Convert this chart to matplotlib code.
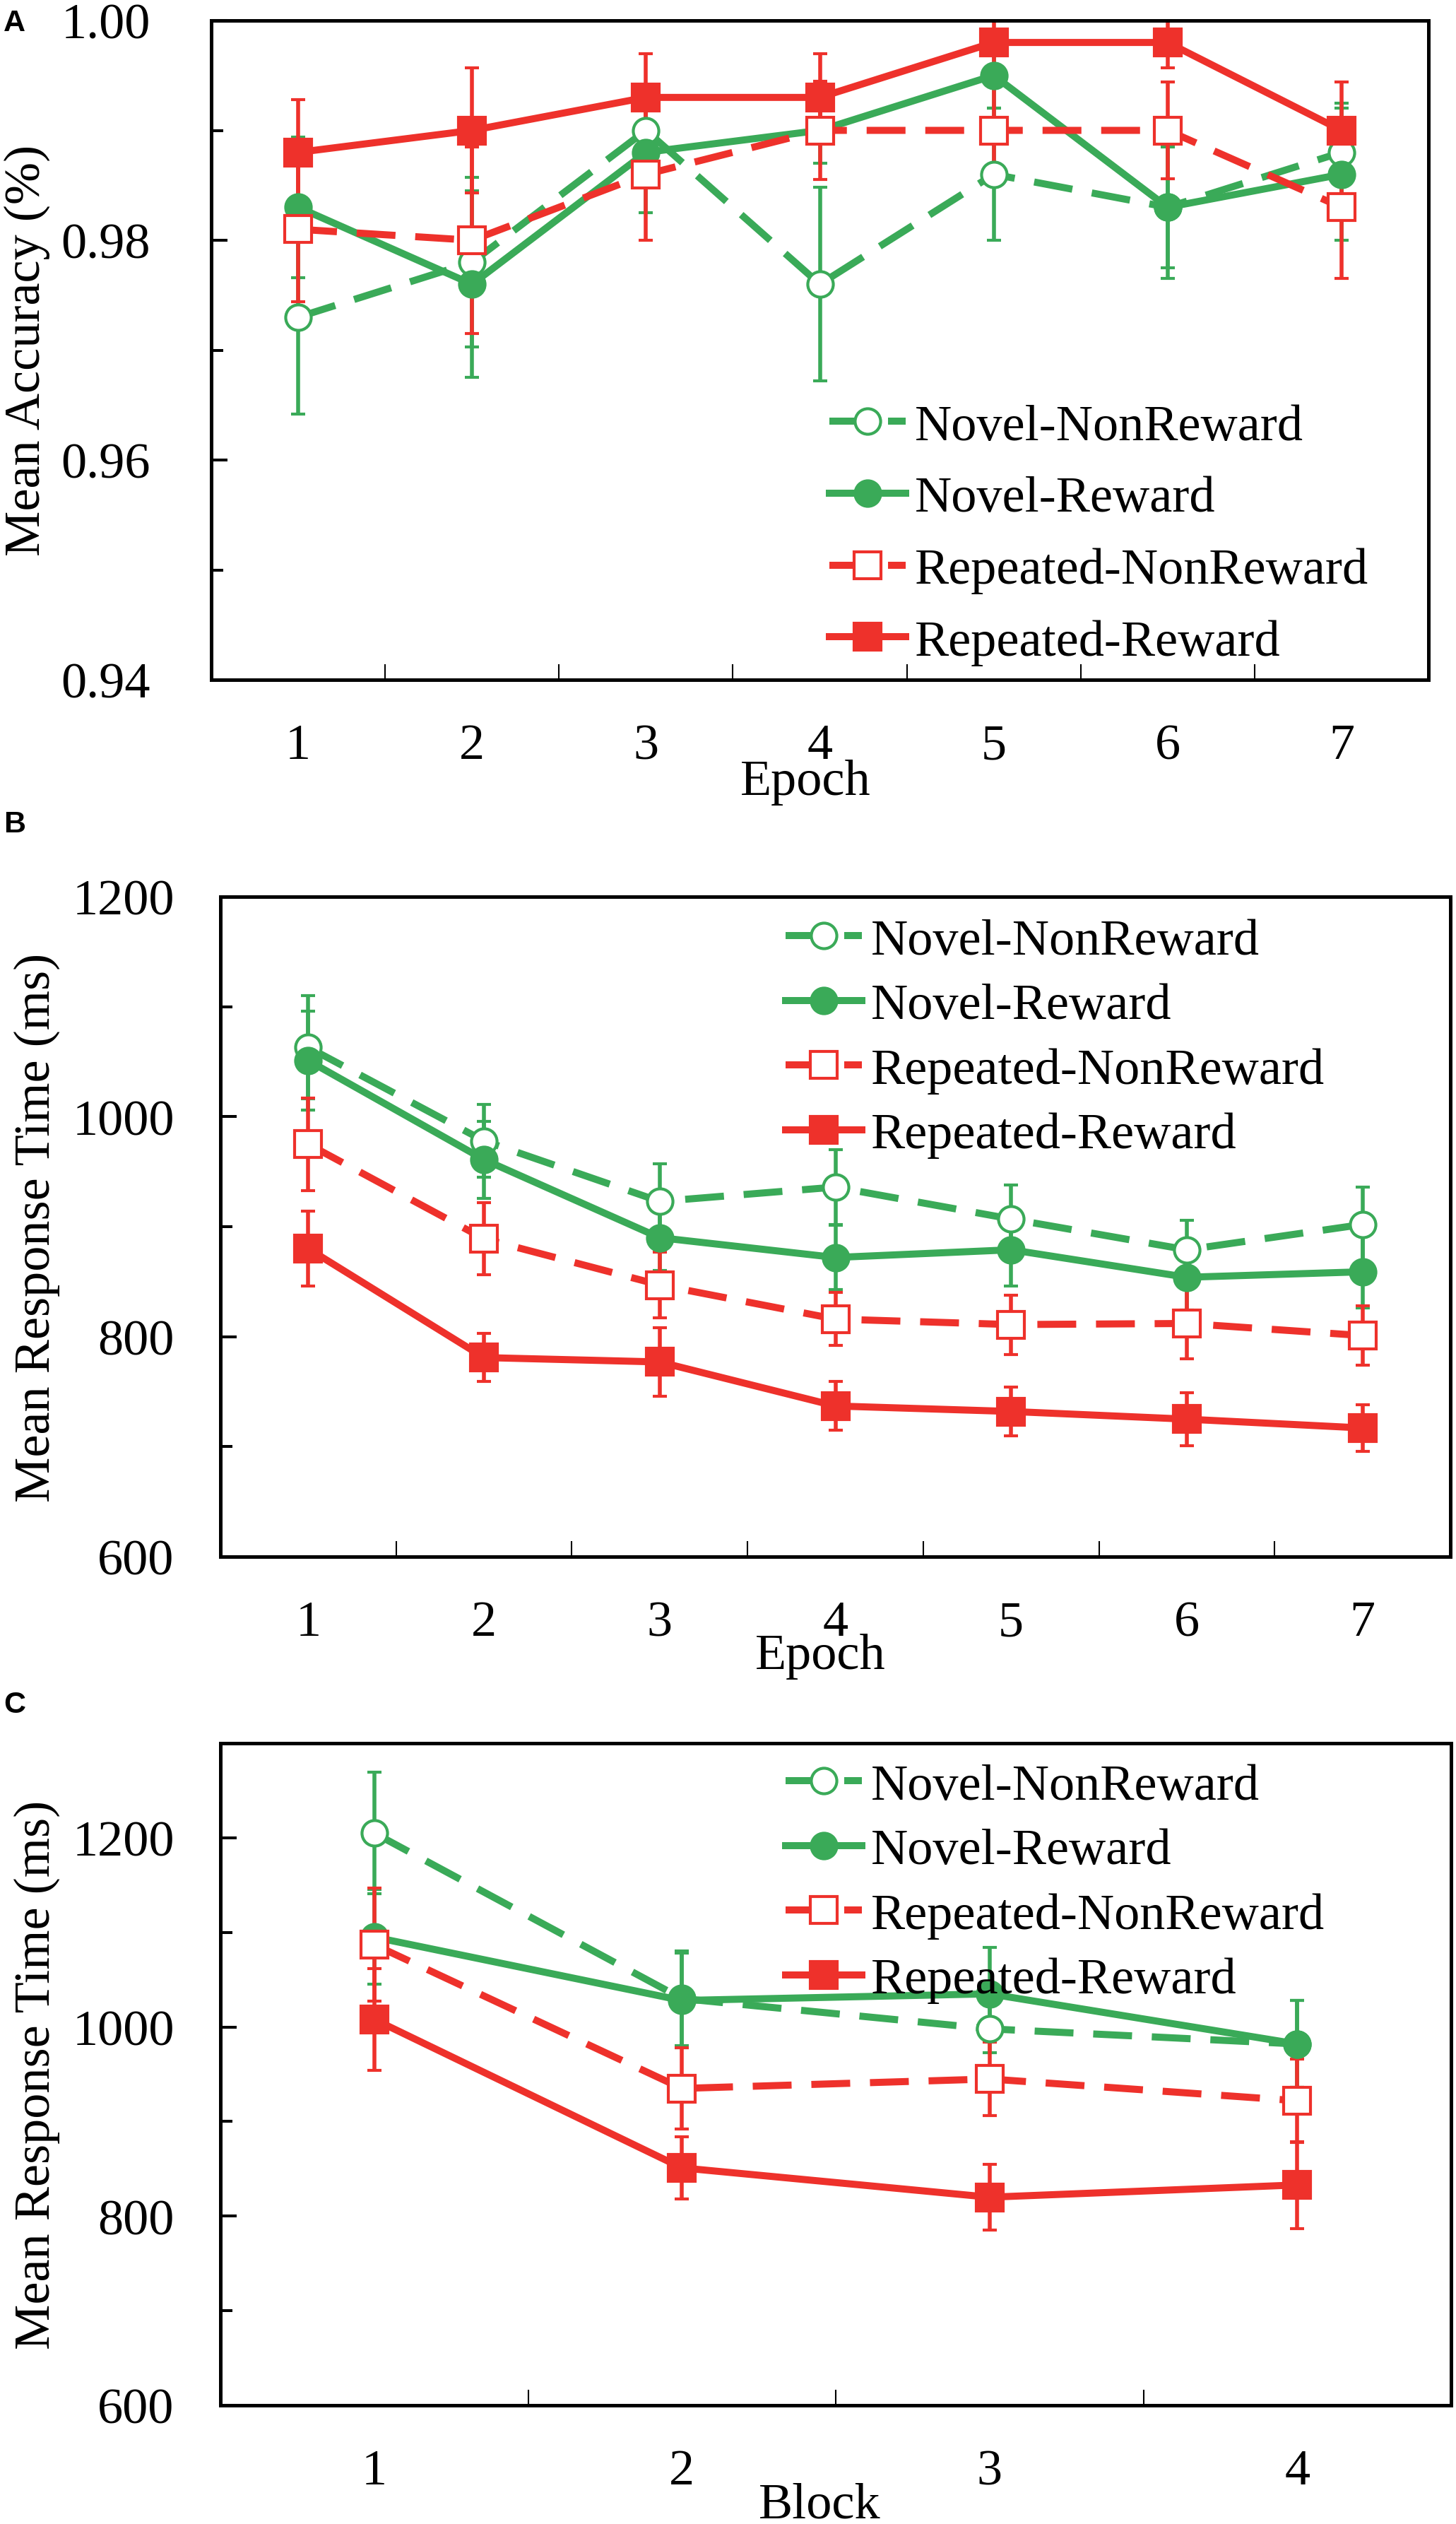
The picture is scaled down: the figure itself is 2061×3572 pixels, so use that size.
import matplotlib
matplotlib.use('Agg')  # no display
import matplotlib.pyplot as plt
from matplotlib.lines import Line2D

# Figure size in pixels
W, H = 2061, 3573
DPI = 100

plt.rcParams['font.family'] = ['Liberation Serif', 'DejaVu Serif']

GREEN = '#3aaa58'
RED = '#ee312b'
FS = 52  # font size for ticks, labels, legend

# Data
series_names = ['Novel-NonReward', 'Novel-Reward', 'Repeated-NonReward', 'Repeated-Reward']
epochs = [1, 2, 3, 4, 5, 6, 7]
blocks = [1, 2, 3, 4]

# Panel A: accuracy by epoch
acc_nnr = [0.973, 0.978, 0.990, 0.976, 0.986, 0.983, 0.988]
acc_nnr_err = [0.0088, 0.0077, 0.0040, 0.0088, 0.0060, 0.0055, 0.0045]
acc_nr = [0.983, 0.976, 0.988, 0.990, 0.995, 0.983, 0.986]
acc_nr_err = [0.0064, 0.0085, 0.0055, 0.0030, 0.0030, 0.0065, 0.0060]
acc_rnr = [0.981, 0.980, 0.986, 0.990, 0.990, 0.990, 0.983]
acc_rnr_err = [0.0066, 0.0085, 0.0060, 0.0045, 0.0040, 0.0044, 0.0065]
acc_rr = [0.988, 0.990, 0.993, 0.993, 0.998, 0.998, 0.990]
acc_rr_err = [0.0048, 0.0057, 0.0040, 0.0040, 0.0025, 0.0023, 0.0044]

# Panel B: response time by epoch
rt_nnr = [1063, 978, 923, 936, 907, 879, 902]
rt_nnr_err = [47, 33, 34, 34, 31, 27, 34]
rt_nr = [1051, 961, 890, 872, 879, 854, 859]
rt_nr_err = [45, 35, 30, 29, 33, 30, 33]
rt_rnr = [975, 889, 847, 816, 811, 812, 801]
rt_rnr_err = [42, 33, 30, 24, 27, 32, 27]
rt_rr = [880, 781, 777, 737, 732, 725, 717]
rt_rr_err = [34, 22, 31, 22, 22, 24, 21]

# Panel C: response time by block
blk_nnr = [1205, 1030, 998, 982]
blk_nnr_err = [64, 50, 25, 46]
blk_nr = [1095, 1028, 1035, 982]
blk_nr_err = [50, 50, 49, 46]
blk_rnr = [1087, 935, 945, 922]
blk_rnr_err = [60, 43, 39, 44]
blk_rr = [1008, 851, 820, 833]
blk_rr_err = [54, 33, 35, 46]

# Styles: color, marker, filled, dashed
styles = [
    (GREEN, 'o', False, True),
    (GREEN, 'o', True, False),
    (RED, 's', False, True),
    (RED, 's', True, False),
]
DASH = (0, (5.5, 2.8))


def line_kw(color, marker, filled, dashed):
    return dict(color=color, lw=7.2, ls=DASH if dashed else '-',
                marker=marker, ms=28 if marker == 's' else 26,
                mfc=color if filled else 'white', mec=color, mew=3)


def px_box(left, right, top, bottom):
    return [left / W, 1 - bottom / H, (right - left) / W, (bottom - top) / H]


def draw_panel(ax, x, means, errs, ylim, major, minor, ylabels, ypad):
    for m, e, st in zip(means, errs, styles):
        ax.errorbar(x, m, yerr=e, ecolor=st[0], elinewidth=4, capsize=7,
                    capthick=3.5, **line_kw(*st))
    ax.set_xlim(0.5, len(x) + 0.5)
    ax.set_ylim(*ylim)
    ax.set_xticks(x)
    ax.set_xticklabels([str(v) for v in x])
    ax.set_xticks([v + 0.5 for v in x[:-1]], minor=True)
    ax.tick_params(axis='x', which='major', length=0, pad=44, labelsize=FS)
    ax.tick_params(axis='x', which='minor', direction='in', length=16, width=1.5)
    ax.yaxis.set_ticks(major)
    ax.yaxis.set_ticklabels(ylabels)
    ax.yaxis.set_ticks(minor, minor=True)
    ax.tick_params(axis='y', which='major', direction='in', length=16.5, width=2.9,
                   pad=ypad, labelsize=FS)
    ax.tick_params(axis='y', which='minor', direction='in', length=12, width=2.9)
    for sp in ax.spines.values():
        sp.set_linewidth(3.6)
    handles = [Line2D([], [], **line_kw(*st)) for st in styles]
    return handles


fig = plt.figure(figsize=(W / DPI, H / DPI), dpi=DPI)

# Panel A
axA = fig.add_axes(px_box(299, 2022, 30, 963))
hA = draw_panel(axA, epochs, [acc_nnr, acc_nr, acc_rnr, acc_rr],
                [acc_nnr_err, acc_nr_err, acc_rnr_err, acc_rr_err],
                (0.94, 1.00), [0.94, 0.96, 0.98, 1.00], [0.95, 0.97, 0.99],
                ['0.94', '0.96', '0.98', '1.00'], 62)

# Panel B
axB = fig.add_axes(px_box(312, 2053, 1270, 2204))
hB = draw_panel(axB, epochs, [rt_nnr, rt_nr, rt_rnr, rt_rr],
                [rt_nnr_err, rt_nr_err, rt_rnr_err, rt_rr_err],
                (600, 1200), [600, 800, 1000, 1200], [700, 900, 1100],
                ['600', '800', '1000', '1200'], 47)

# Panel C
axC = fig.add_axes(px_box(312, 2054, 2468, 3405))
hC = draw_panel(axC, blocks, [blk_nnr, blk_nr, blk_rnr, blk_rr],
                [blk_nnr_err, blk_nr_err, blk_rnr_err, blk_rr_err],
                (600, 1300), [600, 800, 1000, 1200], [700, 900, 1100],
                ['600', '800', '1000', '1200'], 47)

# Legends
for ax, hs, lx, ty, sp in [(axA, hA, 1174, 572, 0.5), (axB, hB, 1112, 1300, 0.36),
                           (axC, hC, 1112, 2496, 0.36)]:
    ax.legend(handles=hs, labels=series_names, loc='upper left',
              bbox_to_anchor=(lx / W, 1 - ty / H), bbox_transform=fig.transFigure,
              frameon=False, borderpad=0, borderaxespad=0, handlelength=1.5,
              handletextpad=0.18, labelspacing=sp, fontsize=FS)

# Axis titles and panel letters
fig.text(1140 / W, 1 - 1108 / H, 'Epoch', ha='center', va='center', fontsize=FS)
fig.text(1161 / W, 1 - 2345 / H, 'Epoch', ha='center', va='center', fontsize=FS)
fig.text(1160 / W, 1 - 3546 / H, 'Block', ha='center', va='center', fontsize=FS)
fig.text(38 / W, 1 - 496 / H, 'Mean Accuracy (%)', rotation=90, ha='center', va='center', fontsize=FS)
fig.text(52 / W, 1 - 1737 / H, 'Mean Response Time (ms)', rotation=90, ha='center', va='center', fontsize=FS)
fig.text(52 / W, 1 - 2936 / H, 'Mean Response Time (ms)', rotation=90, ha='center', va='center', fontsize=FS)
for lbl, y in [('A', 13), ('B', 1147), ('C', 2393)]:
    fig.text(5 / W, 1 - y / H, lbl, family='Liberation Sans', weight='bold',
             fontsize=31, ha='left', va='top')

fig.savefig('out.png', dpi=DPI)
